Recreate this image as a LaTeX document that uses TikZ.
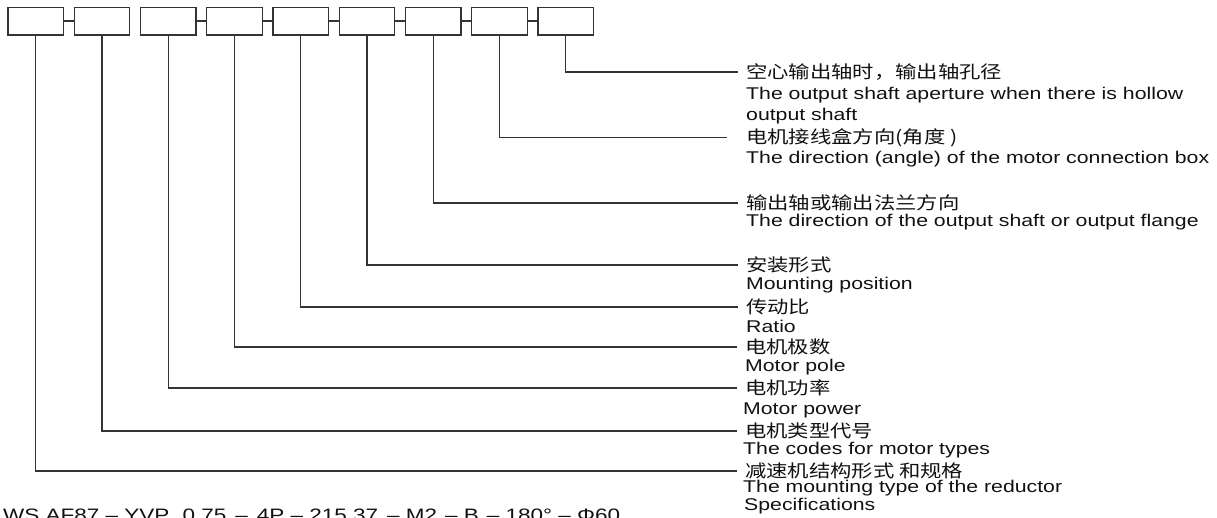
\documentclass[tikz,border=0pt]{standalone}
\usepackage{fontspec}
\setmainfont{Liberation Sans}[FakeStretch=1.25]
\newfontfamily\cjk{Noto Sans CJK SC}[FakeStretch=1.22]
\definecolor{linecol}{HTML}{333333}
\definecolor{txtcol}{HTML}{111111}
\begin{document}
\begin{tikzpicture}[x=1pt,y=-1pt,
  codebox/.style={draw=linecol, line width=1.4pt, minimum width=55.5pt, minimum height=27.7pt, inner sep=0pt, outer sep=0pt},
  link/.style={draw=linecol, line width=2.2pt},
  lead/.style={draw=linecol, line width=1.2pt},
  cn/.style={anchor=west, inner xsep=8pt, inner ysep=0pt, outer sep=0pt, text=txtcol, font=\cjk\fontsize{17.5}{20}\selectfont},
  en/.style={anchor=west, inner sep=0pt, text=txtcol, font=\fontsize{17}{20}\selectfont}]
\useasboundingbox (0,0) rectangle (1217,518);
\clip (0,0) rectangle (1217,518);
% code boxes
\foreach \i in {1,...,9} {
  \node[codebox] (b\i) at ({35.75+66.25*(\i-1)},21.15) {};
}
\draw[link] (b1.east) -- (b2.west);
\foreach \i/\j in {3/4,4/5,5/6,6/7,7/8,8/9} {
  \draw[link] (b\i.east) -- (b\j.west);
}
% labels
\node[cn] (c9) at (738,72) {空心输出轴时，输出轴孔径};
\node[en] (e9a) at (746,95) {The output shaft aperture when there is hollow};
\node[en] (e9b) at (746,116) {output shaft};
\node[cn] (c8) at (738,137.5) {电机接线盒方向(角度 )};
\node[en] (e8) at (746,159) {The direction (angle) of the motor connection box};
\node[cn] (c7) at (738,203) {输出轴或输出法兰方向};
\node[en] (e7) at (746,222) {The direction of the output shaft or output flange};
\node[cn] (c6) at (738,265) {安装形式};
\node[en] (e6) at (746,285) {Mounting position};
\node[cn] (c5) at (738,307) {传动比};
\node[en] (e5) at (746,326) {Ratio};
\node[cn] (c4) at (737,347) {电机极数};
\node[en] (e4) at (745,367) {Motor pole};
\node[cn] (c3) at (737,388) {电机功率};
\node[en] (e3) at (743,410) {Motor power};
\node[cn] (c2) at (737,431) {电机类型代号};
\node[en] (e2) at (743,450) {The codes for motor types};
\node[cn] (c1) at (737,471) {减速机结构形式 和规格};
\node[en] (e1a) at (743,488) {The mounting type of the reductor};
\node[en] (e1b) at (744,506) {Specifications};
% leaders
\foreach \i in {1,2,3,4,5,6,7,9} {
  \draw[lead] (b\i.south) |- (c\i.west);
}
\draw[lead, shorten >=11pt] (b8.south) |- (c8.west);
% formula
\node[en, anchor=base west, font=\fontsize{18}{20}\selectfont] (formula) at (3,521)
  {WS AF87 – YVP\hspace{13pt}0.75\hspace{9pt}–\hspace{9pt}4P – 215.37\hspace{9pt}– M2\hspace{8pt}– B\hspace{8pt}– 180° – Φ60};
\end{tikzpicture}
\end{document}
